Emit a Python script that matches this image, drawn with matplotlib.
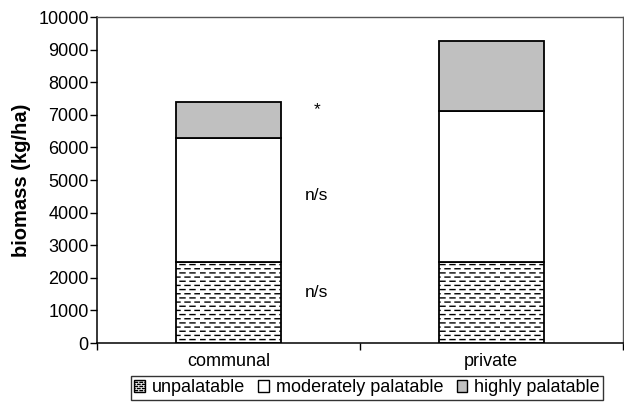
import warnings
warnings.filterwarnings("ignore")
import numpy as np
import matplotlib
matplotlib.use("Agg")
import matplotlib.pyplot as plt
import matplotlib.hatch as mh
from matplotlib.path import Path
from matplotlib.patches import Patch

categories = ["communal", "private"]
unpalatable = [2480, 2480]
moderately = [3810, 4640]   # segment heights
highly = [1090, 2140]
series_names = ["unpalatable", "moderately palatable", "highly palatable"]
annotations = [("*", 7150), ("n/s", 4510), ("n/s", 1560)]
yticks = list(range(0, 10001, 1000))


class DashedHatch(mh.HatchPatternBase):
    def __init__(self, hatch, density):
        n = hatch.count('_')
        self.rows = 24 * n
        self.dashes = 10 * n
        self.num_lines = self.rows * self.dashes
        self.num_vertices = self.num_lines * 2

    def set_vertices_and_codes(self, vertices, codes):
        k = 0
        for r in range(self.rows):
            y = (r + 0.5) / self.rows
            off = 0.5 / self.dashes if r % 2 else 0.0
            for d in range(self.dashes):
                x0 = d / self.dashes + off
                x1 = x0 + 0.5 / self.dashes
                vertices[2 * k] = (x0, y)
                vertices[2 * k + 1] = (x1, y)
                codes[2 * k] = Path.MOVETO
                codes[2 * k + 1] = Path.LINETO
                k += 1


mh._hatch_types.append(DashedHatch)

plt.rcParams['font.family'] = ['Liberation Sans', 'DejaVu Sans']
plt.rcParams['hatch.linewidth'] = 1.0
plt.rcParams['hatch.color'] = '#333333'

fig = plt.figure(figsize=(6.24, 4.05), dpi=100)
ax = fig.add_axes([0.1554, 0.153, 0.8426, 0.805])

x = np.arange(len(categories))
w = 0.4
b1 = np.array(unpalatable)
b2 = b1 + np.array(moderately)
ax.bar(x, unpalatable, w, color='white', edgecolor='black', linewidth=1.3, hatch='_')
ax.bar(x, moderately, w, bottom=b1, color='white', edgecolor='black', linewidth=1.3)
ax.bar(x, highly, w, bottom=b2, color='#c0c0c0', edgecolor='black', linewidth=1.3)

for txt, yv in annotations:
    ax.text(0.336, yv, txt, ha='center', va='center', fontsize=12.5)

ax.set_xlim(-0.5, 1.5)
ax.set_ylim(0, 10000)
ax.set_yticks(yticks)
ax.tick_params(axis='y', labelsize=13, length=5, width=1, direction='out', pad=1)
ax.set_xticks(x)
ax.set_xticklabels(categories)
ax.set_xticks([-0.5, 0.5, 1.5], minor=True)
ax.tick_params(axis='x', which='major', length=0, labelsize=13, pad=7)
ax.tick_params(axis='x', which='minor', length=5, width=1, direction='out')
ax.set_ylabel("biomass (kg/ha)", fontsize=14.5, fontweight='bold', labelpad=5)

for s in ['left', 'bottom']:
    ax.spines[s].set_color('black')
    ax.spines[s].set_linewidth(1.1)
for s in ['top', 'right']:
    ax.spines[s].set_color('#555555')
    ax.spines[s].set_linewidth(1.0)

handles = [Patch(facecolor='white', edgecolor='black', hatch='__', linewidth=1.0),
           Patch(facecolor='white', edgecolor='black', linewidth=1.0),
           Patch(facecolor='#c0c0c0', edgecolor='black', linewidth=1.0)]
leg = fig.legend(handles, series_names, loc='center', bbox_to_anchor=(0.588, 0.042),
                 ncol=3, fontsize=13, frameon=True, fancybox=False,
                 handlelength=0.6, handleheight=0.6, handletextpad=0.35,
                 columnspacing=0.75, borderpad=0.2, borderaxespad=0)
leg.get_frame().set_edgecolor('black')
leg.get_frame().set_linewidth(1.0)

fig.savefig("out.png", dpi=100)
